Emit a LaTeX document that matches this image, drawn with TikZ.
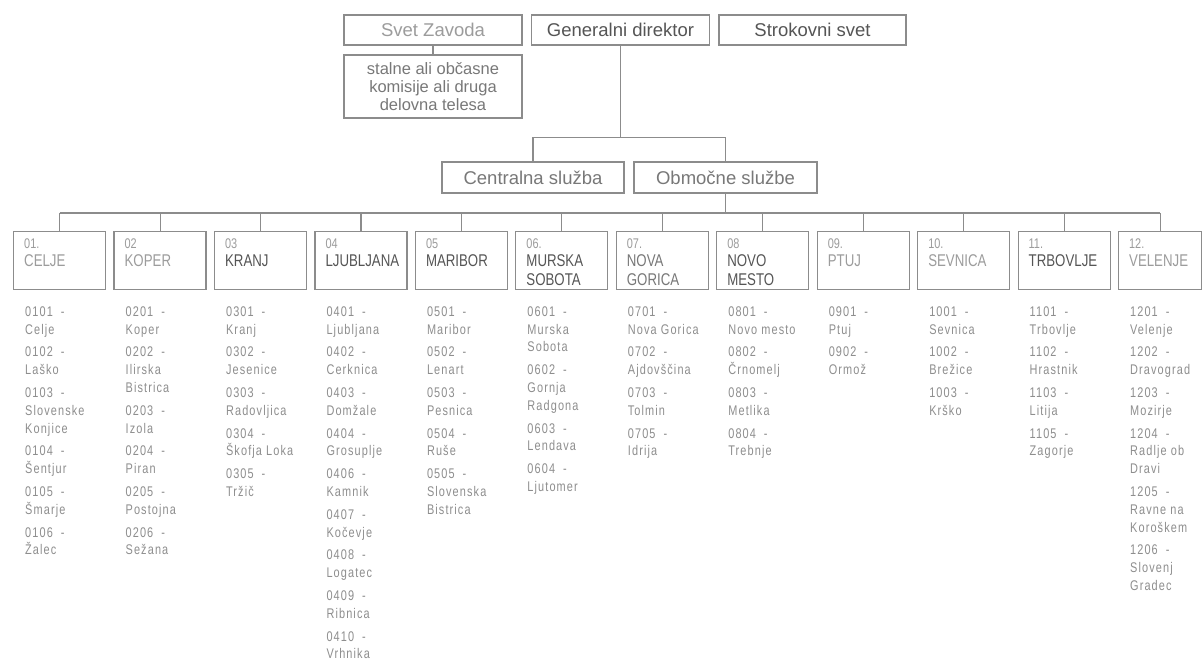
\documentclass[tikz,border=0pt]{standalone}
\usepackage{fontspec}
\setmainfont{Liberation Sans}
\newfontfamily\condfont[FakeStretch=0.78]{Liberation Sans}
\newfontfamily\listfont[FakeStretch=0.78,LetterSpace=8]{Liberation Sans}
\usetikzlibrary{calc}
\definecolor{linegray}{HTML}{8C8C8C}
\definecolor{darktxt}{HTML}{555555}
\definecolor{midtxt}{HTML}{787878}
\definecolor{lighttxt}{HTML}{9C9C9C}
\definecolor{listgray}{HTML}{8E8E8E}
\newcommand\ent[2]{#1\hspace{8pt}-\\#2}
\newcommand\district[6]{%
  \node[dbox, minimum width=#6pt] (b#1) at ({13+100.45*(#1-1)},231) {};
  \node[boxnum] (n#1) at ($(b#1.north west)+(11,17)$) {#2};
  \node[boxname, text=#4] (m#1) at ($(b#1.north west)+(11,21.7)$) {\strut #3};
  \node[listtxt] (l#1) at ($(b#1.south west)+(12,13.5)$) {\strut #5};
  \draw[link] (b#1.north) -- (b#1.north |- bus);
}
\tikzset{
  topbox/.style={draw=linegray, line width=1.2pt, minimum width=178pt, minimum height=30pt,
    inner sep=0pt, font=\fontsize{18.5}{20}\selectfont},
  subbox/.style={draw=linegray, line width=1.2pt, minimum width=178pt, minimum height=63pt,
    inner sep=0pt, align=center, text=midtxt, font=\fontsize{16.5}{18}\selectfont},
  midbox/.style={draw=linegray, line width=1.2pt, minimum height=31pt, inner sep=0pt,
    text=midtxt, font=\fontsize{18.5}{20}\selectfont},
  dbox/.style={draw=linegray, line width=1.2pt, minimum height=58pt, inner sep=0pt, anchor=north west},
  link/.style={draw=linegray, line width=1.1pt},
  boxnum/.style={anchor=base west, inner sep=0pt, text=lighttxt, font=\condfont\fontsize{14}{18}\selectfont},
  boxname/.style={anchor=north west, inner sep=0pt, align=left, font=\condfont\fontsize{17}{19}\selectfont},
  listtxt/.style={anchor=north west, inner sep=0pt, align=left, text=listgray, font=\listfont\fontsize{14}{17.8}\selectfont},
}
\begin{document}
\begin{tikzpicture}[x=1pt,y=-1pt]
\fill[white] (0,0) rectangle (1203,667);
\useasboundingbox (0,0) rectangle (1203,667);

% top level
\node[topbox, text=lighttxt] (sv) at (433,30) {Svet Zavoda};
\node[topbox, text=darktxt] (gd) at (620.5,30) {Generalni direktor};
\node[topbox, text=darktxt, minimum width=187pt] (ss) at (812.5,30) {Strokovni svet};
\node[subbox] (sub) at (433,86.5) {stalne ali občasne\\komisije ali druga\\delovna telesa};
\draw[link] (sv.south) -- (sub.north);

% second level
\node[midbox, minimum width=182pt] (cs) at (533,177.5) {Centralna služba};
\node[midbox, minimum width=183pt] (os) at (725.5,177.5) {Območne službe};
\coordinate (j1) at ($(gd.south)+(0,92)$);
\draw[link] (gd.south) -- (j1);
\draw[link] (cs.north) -- (cs.north |- j1) -- (os.north |- j1) -- (os.north);

% bus
\coordinate (bus) at (600,213);
\draw[link] (os.south) -- (os.south |- bus);

\district{1}{01.}{CELJE}{lighttxt}{\ent{0101}{Celje}\\[5pt]\ent{0102}{Laško}\\[5pt]\ent{0103}{Slovenske\\Konjice}\\[5pt]\ent{0104}{Šentjur}\\[5pt]\ent{0105}{Šmarje}\\[5pt]\ent{0106}{Žalec}}{92}
\district{2}{02}{KOPER}{lighttxt}{\ent{0201}{Koper}\\[5pt]\ent{0202}{Ilirska\\Bistrica}\\[5pt]\ent{0203}{Izola}\\[5pt]\ent{0204}{Piran}\\[5pt]\ent{0205}{Postojna}\\[5pt]\ent{0206}{Sežana}}{92}
\district{3}{03}{KRANJ}{darktxt}{\ent{0301}{Kranj}\\[5pt]\ent{0302}{Jesenice}\\[5pt]\ent{0303}{Radovljica}\\[5pt]\ent{0304}{Škofja Loka}\\[5pt]\ent{0305}{Tržič}}{92}
\district{4}{04}{LJUBLJANA}{darktxt}{\ent{0401}{Ljubljana}\\[5pt]\ent{0402}{Cerknica}\\[5pt]\ent{0403}{Domžale}\\[5pt]\ent{0404}{Grosuplje}\\[5pt]\ent{0406}{Kamnik}\\[5pt]\ent{0407}{Kočevje}\\[5pt]\ent{0408}{Logatec}\\[5pt]\ent{0409}{Ribnica}\\[5pt]\ent{0410}{Vrhnika}}{92}
\district{5}{05}{MARIBOR}{darktxt}{\ent{0501}{Maribor}\\[5pt]\ent{0502}{Lenart}\\[5pt]\ent{0503}{Pesnica}\\[5pt]\ent{0504}{Ruše}\\[5pt]\ent{0505}{Slovenska\\Bistrica}}{92}
\district{6}{06.}{MURSKA\\SOBOTA}{darktxt}{\ent{0601}{Murska\\Sobota}\\[5pt]\ent{0602}{Gornja\\Radgona}\\[5pt]\ent{0603}{Lendava}\\[5pt]\ent{0604}{Ljutomer}}{92}
\district{7}{07.}{NOVA\\GORICA}{midtxt}{\ent{0701}{Nova Gorica}\\[5pt]\ent{0702}{Ajdovščina}\\[5pt]\ent{0703}{Tolmin}\\[5pt]\ent{0705}{Idrija}}{92}
\district{8}{08}{NOVO\\MESTO}{darktxt}{\ent{0801}{Novo mesto}\\[5pt]\ent{0802}{Črnomelj}\\[5pt]\ent{0803}{Metlika}\\[5pt]\ent{0804}{Trebnje}}{92}
\district{9}{09.}{PTUJ}{lighttxt}{\ent{0901}{Ptuj}\\[5pt]\ent{0902}{Ormož}}{92}
\district{10}{10.}{SEVNICA}{lighttxt}{\ent{1001}{Sevnica}\\[5pt]\ent{1002}{Brežice}\\[5pt]\ent{1003}{Krško}}{92}
\district{11}{11.}{TRBOVLJE}{darktxt}{\ent{1101}{Trbovlje}\\[5pt]\ent{1102}{Hrastnik}\\[5pt]\ent{1103}{Litija}\\[5pt]\ent{1105}{Zagorje}}{92}
\district{12}{12.}{VELENJE}{lighttxt}{\ent{1201}{Velenje}\\[5pt]\ent{1202}{Dravograd}\\[5pt]\ent{1203}{Mozirje}\\[5pt]\ent{1204}{Radlje ob\\Dravi}\\[5pt]\ent{1205}{Ravne na\\Koroškem}\\[5pt]\ent{1206}{Slovenj\\Gradec}}{83}

\draw[link] (b1.north |- bus) -- (b12.north |- bus);
\end{tikzpicture}
\end{document}
